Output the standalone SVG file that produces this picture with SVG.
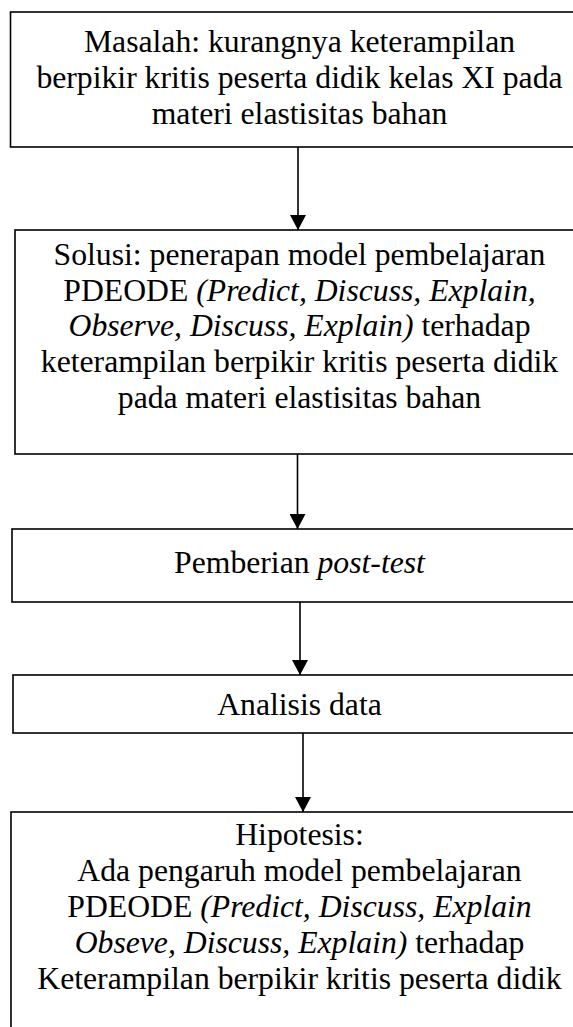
<svg xmlns="http://www.w3.org/2000/svg" width="573" height="1027" viewBox="0 0 573 1027">
<style>
.box{fill:#fff;stroke:#000;stroke-width:1.6}
.t{font-family:"Liberation Serif","Times New Roman",serif;font-size:31.7px;fill:#000;text-anchor:middle}
.i{font-style:italic}
.c{stroke:#000;stroke-width:1.6;fill:none}
</style>
<defs>
<marker id="ah" markerUnits="userSpaceOnUse" markerWidth="15" markerHeight="16" viewBox="0 0 15 16" refX="15" refY="8" orient="auto">
<path d="M0,0 L15,8 L0,16 Z" fill="#000"/>
</marker>
</defs>
<rect width="573" height="1027" fill="#fff"/>
<g id="n1">
<rect class="box" x="10.5" y="12" width="580" height="135"/>
<text class="t" x="299.5" y="52">Masalah: kurangnya keterampilan</text>
<text class="t" x="299.5" y="88">berpikir kritis peserta didik kelas XI pada</text>
<text class="t" x="299.5" y="124">materi elastisitas bahan</text>
</g>
<g id="n2">
<rect class="box" x="15" y="230" width="580" height="224"/>
<text class="t" x="299.5" y="265">Solusi: penerapan model pembelajaran</text>
<text class="t" x="299.5" y="300.5">PDEODE <tspan class="i">(Predict, Discuss, Explain,</tspan></text>
<text class="t" x="299.5" y="336"><tspan class="i">Observe, Discuss, Explain)</tspan> terhadap</text>
<text class="t" x="299.5" y="372">keterampilan berpikir kritis peserta didik</text>
<text class="t" x="299.5" y="408">pada materi elastisitas bahan</text>
</g>
<g id="n3">
<rect class="box" x="12" y="529" width="580" height="73"/>
<text class="t" x="299.5" y="573">Pemberian <tspan class="i">post-test</tspan></text>
</g>
<g id="n4">
<rect class="box" x="13" y="675" width="580" height="58"/>
<text class="t" x="299.5" y="715">Analisis data</text>
</g>
<g id="n5">
<rect class="box" x="11" y="812" width="580" height="240"/>
<text class="t" x="299.5" y="845">Hipotesis:</text>
<text class="t" x="299.5" y="881">Ada pengaruh model pembelajaran</text>
<text class="t" x="299.5" y="917">PDEODE <tspan class="i">(Predict, Discuss, Explain</tspan></text>
<text class="t" x="299.5" y="953"><tspan class="i">Obseve, Discuss, Explain)</tspan> terhadap</text>
<text class="t" x="299.5" y="989">Keterampilan berpikir kritis peserta didik</text>
</g>
<g id="connectors">
<line class="c" x1="298" y1="147" x2="298" y2="230" marker-end="url(#ah)"/>
<line class="c" x1="297.5" y1="454" x2="297.5" y2="529" marker-end="url(#ah)"/>
<line class="c" x1="300" y1="602" x2="300" y2="675" marker-end="url(#ah)"/>
<line class="c" x1="303" y1="733" x2="303" y2="812" marker-end="url(#ah)"/>
</g>
</svg>
